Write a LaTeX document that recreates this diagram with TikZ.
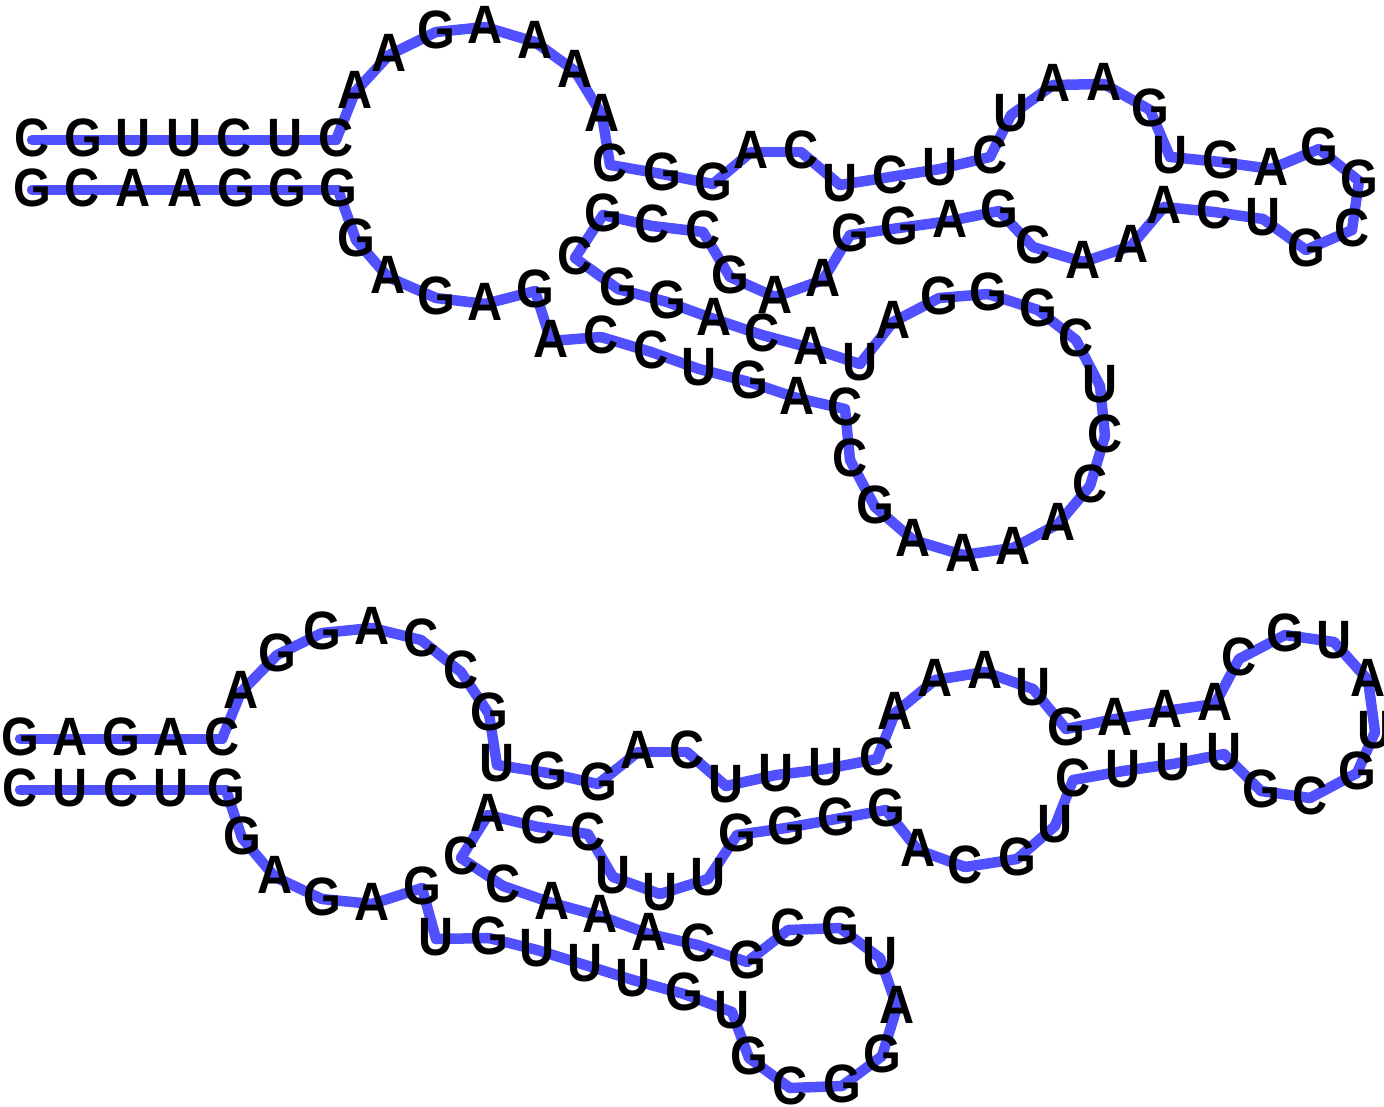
\documentclass[tikz,border=0pt]{standalone}
\usepackage{fontspec}
\setmainfont{Liberation Sans}[FakeStretch=0.9]
\usepackage{tikz}
\usetikzlibrary{backgrounds}
\definecolor{BackboneBlue}{HTML}{5050FF}

\begin{document}
\begin{tikzpicture}[
	x=1pt, y=-1pt,
	base/.style={inner sep=0pt, text=black, text height=37pt, text depth=4pt, yshift=-2pt,
		font=\fontsize{54}{54}\selectfont\bfseries},
	backbone/.style={BackboneBlue, line width=10.5pt, line cap=round, line join=round}
	]
	\useasboundingbox (0,0) rectangle (1384,1106);
	% upper strand
	\foreach \px/\py/\letter [count=\i] in {
		32/138/C, 83/138/G, 133/138/U, 184/138/U, 234/138/C, 285/138/U, 336/138/C,
		355/90/A, 389/53/A, 436/30/G, 485/25/A, 535/40/A, 575/69/A, 602/113/A,
		610/163/C, 662/172/G, 713/182/G, 751/150/A, 801/150/C, 840/183/U, 890/175/C,
		940/167/U, 990/155/C, 1011/113/U, 1053/83/A, 1104/82/A, 1150/108/G,
		1170/155/U, 1221/160/G, 1271/167/A, 1319/147/G, 1359/179/G, 1352/228/C,
		1306/248/G, 1263/217/U, 1214/210/C, 1164/205/A, 1131/244/A, 1083/260/A,
		1033/245/C, 999/209/G, 950/219/A, 899/226/G, 850/233/G, 823/278/A, 775/295/A,
		730/275/G, 703/230/C, 652/224/C, 603/213/G, 575/256/C, 618/287/G, 667/300/G,
		714/317/A, 762/333/C, 811/346/A, 860/362/U, 893/320/A, 939/296/G, 988/292/G,
		1038/308/G, 1076/338/C, 1100/384/U, 1105/434/C, 1090/484/C, 1058/522/A,
		1013/546/A, 963/553/A, 913/538/A, 875/505/G, 850/458/C, 845/407/C, 797/396/A,
		749/380/G, 699/367/U, 651/350/C, 601/335/C, 551/339/A, 535/289/G, 485/302/A,
		436/296/G, 388/275/A, 356/238/G, 338/188/G, 287/188/G, 236/188/G, 185/188/A,
		133/188/A, 82/188/C, 32/188/G}
		\node[base] (t\i) at (\px,\py) {\letter};
	% lower strand
	\foreach \px/\py/\letter [count=\i] in {
		20/737/G, 70/737/A, 121/737/G, 171/737/A, 222/737/C, 241/690/A, 277/653/G,
		322/631/G, 372/626/A, 421/638/C, 461/670/C, 489/712/G, 497/763/U, 548/771/G,
		598/782/G, 638/750/A, 687/750/C, 726/784/U, 776/773/U, 826/767/U, 877/757/C,
		895/711/A, 935/678/A, 985/670/A, 1033/687/U, 1066/727/G, 1115/717/A, 1165/709/A,
		1215/702/A, 1239/657/C, 1285/633/G, 1334/640/U, 1368/678/A, 1375/730/U,
		1357/771/G, 1310/796/C, 1261/789/G, 1224/752/U, 1173/762/U, 1123/769/U,
		1073/778/C, 1055/824/U, 1017/857/G, 965/865/C, 918/848/A, 886/808/G, 836/817/G,
		786/826/G, 737/833/G, 708/877/U, 660/892/U, 613/875/U, 588/832/C, 538/825/C,
		488/813/A, 461/856/C, 503/884/C, 552/901/A, 600/914/A, 649/932/A, 698/943/C,
		747/960/G, 788/928/C, 840/926/G, 880/956/U, 897/1005/A, 882/1054/G, 842/1084/G,
		790/1086/C, 749/1056/G, 732/1010/U, 684/992/G, 633/978/U, 585/963/U, 537/948/U,
		489/936/G, 436/937/U, 422/886/G, 372/902/A, 322/897/G, 275/875/A, 242/836/G,
		226/788/G, 171/788/U, 121/788/C, 70/788/U, 20/788/C}
		\node[base] (b\i) at (\px,\py) {\letter};
	% backbones behind the letters
	\begin{scope}[on background layer]
		\foreach \i [remember=\i as \last (initially 1)] in {2,...,90}
			\draw[backbone] (t\last.center) -- (t\i.center);
		\foreach \i [remember=\i as \last (initially 1)] in {2,...,87}
			\draw[backbone] (b\last.center) -- (b\i.center);
	\end{scope}
\end{tikzpicture}
\end{document}
